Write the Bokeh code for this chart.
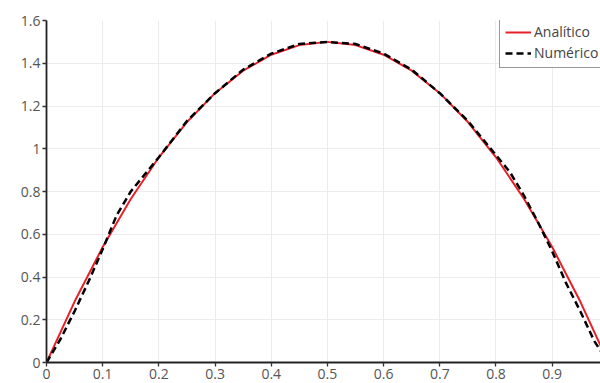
from bokeh.plotting import figure
from bokeh.models import Range1d, FixedTicker, Legend, LegendItem
from bokeh.embed import file_html
from bokeh.resources import INLINE

# Analytic solution
x_analytic = [0, 0.05, 0.1, 0.15, 0.2, 0.25, 0.3, 0.35, 0.4, 0.45, 0.5,
              0.55, 0.6, 0.65, 0.7, 0.75, 0.8, 0.85, 0.9, 0.95, 1.0]
y_analytic = [0, 0.285, 0.54, 0.765, 0.96, 1.125, 1.26, 1.365, 1.44, 1.485, 1.5,
              1.485, 1.44, 1.365, 1.26, 1.125, 0.96, 0.765, 0.54, 0.285, 0]

# Numerical solution
x_numeric = [0, 0.025, 0.05, 0.075, 0.1, 0.125, 0.15, 0.175, 0.2, 0.25, 0.3, 0.35,
             0.4, 0.45, 0.5, 0.55, 0.6, 0.65, 0.7, 0.75, 0.8, 0.825, 0.85, 0.875,
             0.9, 0.925, 0.95, 0.975, 1.0]
y_numeric = [0, 0.11, 0.24, 0.38, 0.53, 0.69, 0.80, 0.88, 0.96, 1.13, 1.26, 1.37,
             1.445, 1.49, 1.50, 1.49, 1.445, 1.37, 1.26, 1.13, 0.97, 0.89, 0.78, 0.655,
             0.52, 0.37, 0.24, 0.10, 0]

x_ticks = [0, 0.1, 0.2, 0.3, 0.4, 0.5, 0.6, 0.7, 0.8, 0.9]
x_tick_labels = ["0", "0.1", "0.2", "0.3", "0.4", "0.5", "0.6", "0.7", "0.8", "0.9"]
y_ticks = [0, 0.2, 0.4, 0.6, 0.8, 1, 1.2, 1.4, 1.6]
y_tick_labels = ["0", "0.2", "0.4", "0.6", "0.8", "1", "1.2", "1.4", "1.6"]

series_names = ["Analítico", "Numérico"]

FONT = "Open Sans"

p = figure(frame_width=554, frame_height=342, output_backend="svg", toolbar_location=None,
           x_range=Range1d(0, 0.986), y_range=Range1d(0, 1.6))
p.min_border_left = 46
p.min_border_top = 20
p.min_border_right = 0
p.min_border_bottom = 0
p.outline_line_color = None
p.background_fill_color = "white"
p.border_fill_color = "white"

for ax, ticks, labels in ((p.xaxis[0], x_ticks, x_tick_labels), (p.yaxis[0], y_ticks, y_tick_labels)):
    ax.ticker = FixedTicker(ticks=ticks)
    ax.major_label_overrides = {t: l for t, l in zip(ticks, labels)}
    ax.minor_tick_line_color = None
    ax.axis_line_color = "#222222"
    ax.axis_line_width = 1.8
    ax.major_tick_line_color = "#333333"
    ax.major_tick_line_width = 1.3
    ax.major_tick_in = 0
    ax.major_tick_out = 4
    ax.major_label_text_font = FONT
    ax.major_label_text_font_size = "14px"
    ax.major_label_text_color = "#555555"
    ax.major_label_standoff = 2

p.xgrid.ticker = FixedTicker(ticks=x_ticks)
p.ygrid.ticker = FixedTicker(ticks=y_ticks)
p.grid.grid_line_color = "#ececec"
p.grid.grid_line_width = 1

r1 = p.line(x_analytic, y_analytic, line_color="#e8202a", line_width=2)
r2 = p.line(x_numeric, y_numeric, line_color="black", line_width=2.5, line_dash="7 4")

legend = Legend(items=[LegendItem(label=series_names[0], renderers=[r1]),
                       LegendItem(label=series_names[1], renderers=[r2])],
                location=(453, 294))
legend.label_text_font = FONT
legend.label_text_font_size = "14px"
legend.label_text_color = "#444444"
legend.glyph_width = 26
legend.glyph_height = 14
legend.label_height = 18
legend.label_standoff = 3
legend.padding = 5
legend.spacing = 2
legend.margin = 0
legend.border_line_color = "#333333"
legend.border_line_width = 1
legend.background_fill_alpha = 1
p.add_layout(legend, "center")

open("out.html", "w").write(file_html(p, INLINE))
